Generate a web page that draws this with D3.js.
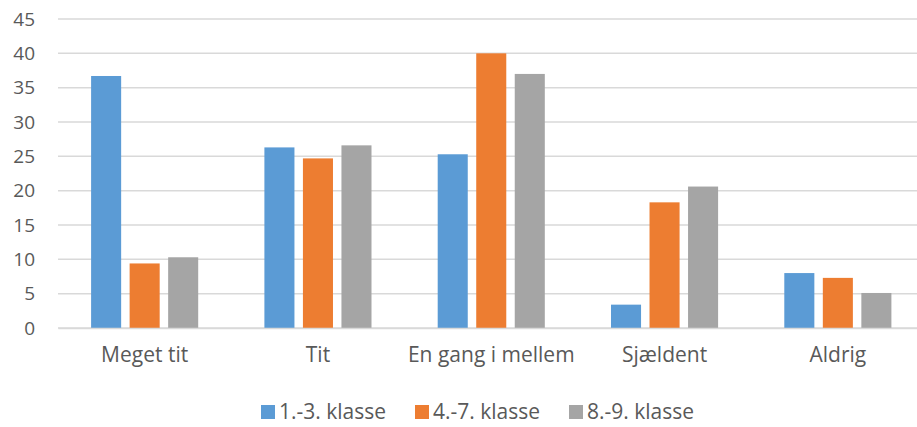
<!DOCTYPE html>
<html>
<head>
<meta charset="utf-8">
<script src="https://cdn.jsdelivr.net/npm/d3@7"></script>
<style>
  body { margin: 0; background: #fff; overflow: hidden; }
  text { font-family: "Open Sans", "Liberation Sans", sans-serif; fill: #595959; }
</style>
</head>
<body>
<div id="chart"></div>
<script>
const categories = ["Meget tit", "Tit", "En gang i mellem", "Sjældent", "Aldrig"]
const seriesNames = ["1.-3. klasse", "4.-7. klasse", "8.-9. klasse"]
const klasse13 = [36.7, 26.3, 25.3, 3.4, 8.0]
const klasse47 = [9.4, 24.7, 40.0, 18.3, 7.3]
const klasse89 = [10.3, 26.6, 37.0, 20.6, 5.1]
const yTicks = [0, 5, 10, 15, 20, 25, 30, 35, 40, 45]
const colors = ["#5b9bd5", "#ed7d31", "#a5a5a5"]

const series = [klasse13, klasse47, klasse89]

const width = 917, height = 427
const margin = { top: 19, bottom: 99, left: 58 }
// plot area runs a little past the right edge of the picture
const plotRight = 924.5

const svg = d3.select("#chart").append("svg")
  .attr("width", width)
  .attr("height", height)

const x0 = d3.scaleBand()
  .domain(categories)
  .range([margin.left, plotRight])
  .paddingInner(0.382)
  .paddingOuter(0.191)

const x1 = d3.scaleBand()
  .domain(d3.range(series.length))
  .range([0, x0.bandwidth()])
  .paddingInner(0.22)

const y = d3.scaleLinear()
  .domain([0, 45])
  .range([height - margin.bottom, margin.top])

// gridlines
svg.append("g")
  .selectAll("line")
  .data(yTicks).enter()
  .append("line")
  .attr("x1", margin.left)
  .attr("x2", plotRight)
  .attr("y1", d => y(d))
  .attr("y2", d => y(d))
  .attr("stroke", "#d9d9d9")
  .attr("stroke-width", 1.5)

// y axis labels
const yAxis = d3.axisLeft(y).tickValues(yTicks).tickSize(0).tickPadding(0)
svg.append("g")
  .attr("transform", `translate(${margin.left - 23},0)`)
  .call(yAxis)
  .call(g => g.select(".domain").remove())
  .selectAll("text")
  .style("font-size", "19px")
  .attr("fill", "#595959")

// bars
const groups = svg.append("g")
  .selectAll("g")
  .data(categories).enter()
  .append("g")
  .attr("transform", d => `translate(${x0(d)},0)`)

groups.selectAll("rect")
  .data((d, i) => series.map((s, j) => ({ j: j, v: s[i] })))
  .enter()
  .append("rect")
  .attr("x", d => x1(d.j))
  .attr("width", x1.bandwidth())
  .attr("y", d => y(d.v))
  .attr("height", d => y(0) - y(d.v))
  .attr("fill", d => colors[d.j])

// x axis
const xAxis = d3.axisBottom(x0).tickSize(0).tickPadding(19)
svg.append("g")
  .attr("transform", `translate(0,${y(0)})`)
  .call(xAxis)
  .call(g => g.select(".domain").attr("stroke", "#d9d9d9").attr("stroke-width", 1.5))
  .selectAll("text")
  .style("font-size", "21px")
  .attr("fill", "#595959")

// legend
const legendX = [261, 415, 569]
const legend = svg.append("g")
  .selectAll("g")
  .data(seriesNames).enter()
  .append("g")
  .attr("transform", (d, i) => `translate(${legendX[i]},405)`)

legend.append("rect")
  .attr("width", 14)
  .attr("height", 14)
  .attr("fill", (d, i) => colors[i])

legend.append("text")
  .attr("x", 18)
  .attr("y", 7)
  .attr("dy", "0.35em")
  .style("font-size", "21px")
  .text(d => d)
</script>
</body>
</html>
